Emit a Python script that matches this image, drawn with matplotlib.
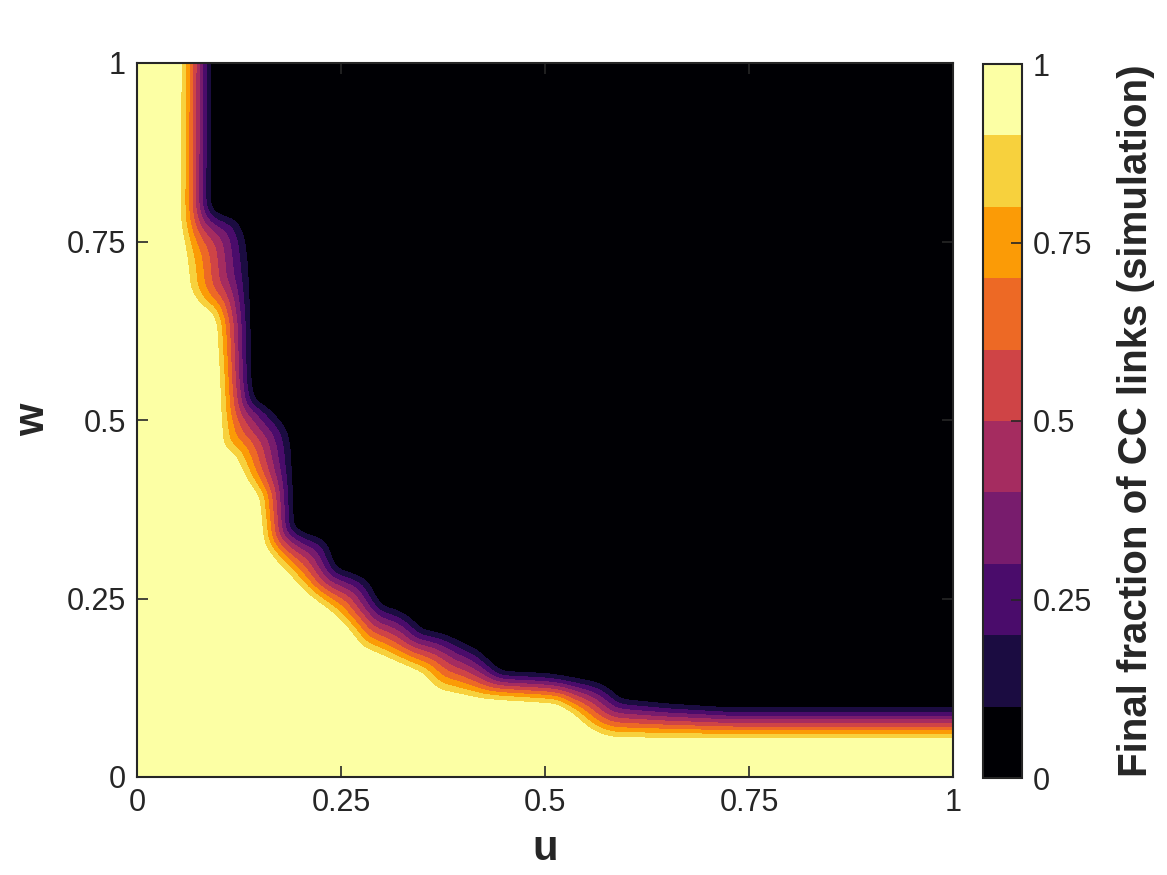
import numpy as np
import matplotlib
matplotlib.use("Agg")
import matplotlib.pyplot as plt
from matplotlib.colors import ListedColormap
from matplotlib.path import Path

plt.rcParams['font.family'] = ['Liberation Sans', 'DejaVu Sans']

# Edge of the fully-CC region (0.9 contour)
yellow_u = [0.056, 0.055, 0.060, 0.065, 0.077, 0.093, 0.099, 0.103, 0.105, 0.120,
            0.135, 0.151, 0.154, 0.157, 0.175, 0.208, 0.240, 0.261, 0.276, 0.322,
            0.350, 0.368, 0.420, 0.515, 0.537, 0.549, 0.564, 0.583, 0.727, 1.033]
yellow_w = [1.032, 0.773, 0.738, 0.682, 0.661, 0.651, 0.633, 0.556, 0.462, 0.451,
            0.416, 0.392, 0.360, 0.325, 0.297, 0.258, 0.230, 0.206, 0.182, 0.160,
            0.146, 0.122, 0.111, 0.104, 0.087, 0.073, 0.062, 0.056, 0.055, 0.055]
# Edge of the zero-CC region (0.1 contour)
black_u = [0.089, 0.088, 0.093, 0.123, 0.132, 0.136, 0.138, 0.142, 0.159, 0.175,
           0.184, 0.188, 0.190, 0.206, 0.221, 0.233, 0.239, 0.245, 0.261, 0.282,
           0.294, 0.301, 0.319, 0.338, 0.347, 0.368, 0.384, 0.417, 0.433, 0.445,
           0.502, 0.564, 0.580, 0.592, 0.650, 0.727, 1.033]
black_w = [1.032, 0.801, 0.790, 0.780, 0.756, 0.720, 0.556, 0.528, 0.518, 0.500,
           0.486, 0.462, 0.349, 0.340, 0.336, 0.328, 0.304, 0.290, 0.286, 0.276,
           0.248, 0.238, 0.234, 0.220, 0.206, 0.202, 0.196, 0.178, 0.160, 0.146,
           0.143, 0.132, 0.122, 0.108, 0.101, 0.095, 0.095]

levels = [0, 0.1, 0.2, 0.3, 0.4, 0.5, 0.6, 0.7, 0.8, 0.9, 1.0]
ticks = [0, 0.25, 0.5, 0.75, 1]
tick_labels = ['0', '0.25', '0.5', '0.75', '1']

# ---- build field on a grid (distances measured in screen pixels) ----
sx, sy = 816.0, 714.0
n = 401
u = np.linspace(0, 1, n)
w = np.linspace(0, 1, n)
U, W = np.meshgrid(u, w)
UV = np.column_stack([U.ravel(), W.ravel()])
P = UV * [sx, sy]


def dist_to_polyline(pu, pw):
    bx = np.array(pu) * sx
    by = np.array(pw) * sy
    dmin = np.full(P.shape[0], np.inf)
    for i in range(len(bx) - 1):
        a = np.array([bx[i], by[i]])
        b = np.array([bx[i + 1], by[i + 1]])
        ab = b - a
        t = np.clip(((P - a) @ ab) / (ab @ ab), 0, 1)
        proj = a + t[:, None] * ab
        dmin = np.minimum(dmin, np.hypot(*(P - proj).T))
    return dmin


def below(pu, pw):
    poly = list(zip(pu, pw)) + [(1.05, -0.05), (-0.05, -0.05), (-0.05, 1.05)]
    return Path(poly).contains_points(UV)


dY = dist_to_polyline(yellow_u, yellow_w)
dB = dist_to_polyline(black_u, black_w)
inY = below(yellow_u, yellow_w)
inB = below(black_u, black_w)
V = 0.1 + 0.8 * dB / (dB + dY + 1e-9)
V = np.where(inY, np.minimum(1, 0.9 + 0.8 * dY / 30), V)
V = np.where(~inB, np.maximum(0, 0.1 - 0.8 * dB / 30), V)
V = V.reshape(U.shape)


def blur(a, sig_x, sig_y):
    def k(s):
        r = int(np.ceil(3 * s))
        x = np.arange(-r, r + 1)
        g = np.exp(-0.5 * (x / s) ** 2)
        return g / g.sum(), r
    gx, rx = k(sig_x)
    gy, ry = k(sig_y)
    p = np.pad(a, ((0, 0), (rx, rx)), mode='edge')
    a = np.apply_along_axis(lambda r: np.convolve(r, gx, mode='valid'), 1, p)
    p = np.pad(a, ((ry, ry), (0, 0)), mode='edge')
    a = np.apply_along_axis(lambda c: np.convolve(c, gy, mode='valid'), 0, p)
    return a


Z = blur(V, 5.5 / (sx / (n - 1)), 5.5 / (sy / (n - 1)))

cmap = ListedColormap(plt.cm.inferno(np.linspace(0, 1, 10)))

fig = plt.figure(figsize=(11.67, 8.75), dpi=100)
W_, H_ = 1167, 875
ax = fig.add_axes([137 / W_, 1 - 777 / H_, (953 - 137) / W_, (777 - 63) / H_])
cax = fig.add_axes([983 / W_, 1 - 778 / H_, (1022 - 983) / W_, (778 - 64) / H_])

cf = ax.contourf(U, W, Z, levels=levels, cmap=cmap, vmin=0, vmax=1)
ax.set_xlim(0, 1)
ax.set_ylim(0, 1)
ax.set_xticks(ticks)
ax.set_xticklabels(tick_labels)
ax.set_yticks(ticks)
ax.set_yticklabels(tick_labels)
ax.tick_params(direction='in', length=8, width=1.2, top=True, right=True,
               labelsize=22, colors='#262626', pad=8)
for s in ax.spines.values():
    s.set_linewidth(1.5)
    s.set_color('#262626')
ax.set_xlabel('u', fontsize=30, fontweight='bold', color='#262626', labelpad=8)
ax.set_ylabel('w', fontsize=30, fontweight='bold', color='#262626', labelpad=10)

cb = fig.colorbar(cf, cax=cax, ticks=ticks)
cb.ax.set_yticklabels(tick_labels)
cb.ax.tick_params(direction='in', length=8, width=1.2, labelsize=22, colors='#262626', pad=8)
cb.outline.set_linewidth(1.5)
cb.outline.set_edgecolor('#262626')
cb.set_label('Final fraction of CC links (simulation)', fontsize=29, fontweight='bold',
             color='#262626', labelpad=18)

fig.savefig('out.png', dpi=100)
